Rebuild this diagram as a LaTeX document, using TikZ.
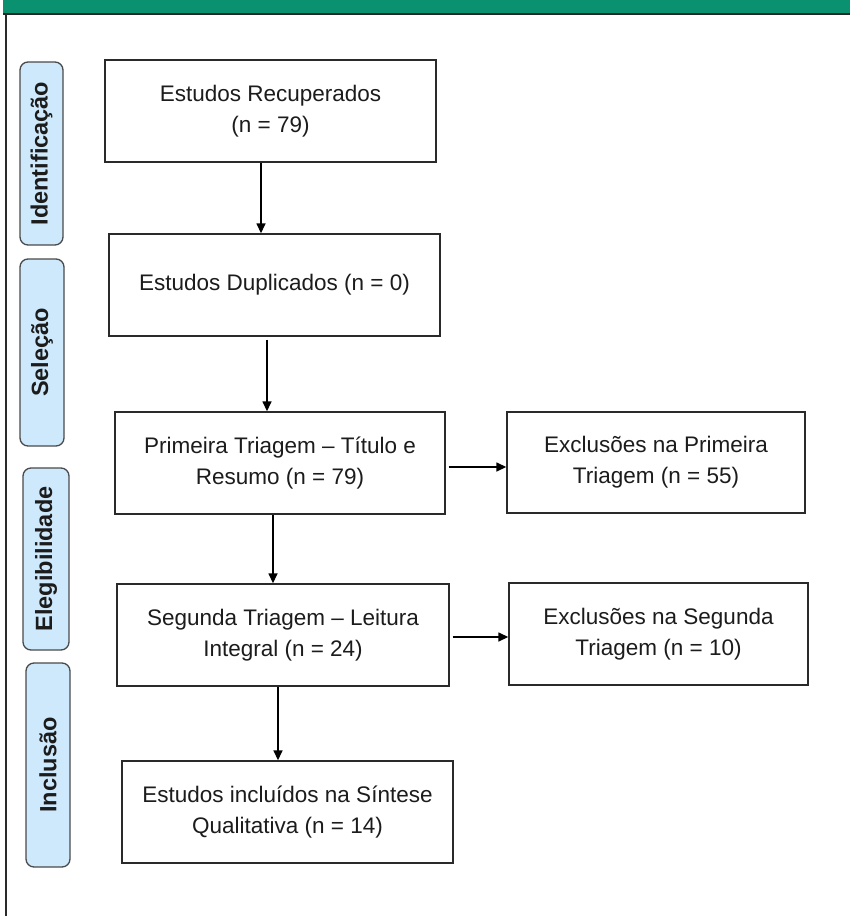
\documentclass[tikz,border=0pt]{standalone}
\usepackage{fontspec}
\setmainfont{Liberation Sans}
\usetikzlibrary{arrows.meta}
\definecolor{hdrgreen}{HTML}{0A9170}
\definecolor{boxline}{HTML}{2A2A2A}
\definecolor{sidefill}{HTML}{CDE9FB}
\definecolor{sideline}{HTML}{4A4A4A}
\definecolor{txt}{HTML}{1C1C1C}
\tikzset{
  flowbox/.style={draw=boxline, line width=1.4pt, fill=white, text=txt, align=center,
    inner sep=0pt, font=\fontsize{22.5}{31}\selectfont},
  sidebox/.style={draw=sideline, line width=1.3pt, fill=sidefill, rounded corners=8pt,
    inner sep=0pt},
  sidetext/.style={rotate=90, text=txt, inner sep=0pt, font=\bfseries\fontsize{23.5}{28}\selectfont},
  arr/.style={draw=black, line width=1.5pt, -{Triangle[length=10pt,width=9pt]}},
}
\begin{document}
\begin{tikzpicture}[x=1pt,y=-1pt]
\useasboundingbox (0,0) rectangle (850,916);
% header
\fill[hdrgreen] (3,0) rectangle (850,13);
\draw[black!85, line width=2pt] (3,14) -- (850,14);
\draw[boxline, line width=1.3pt] (6,14) -- (6,916);
% side labels
\node[sidebox, minimum width=43pt, minimum height=183pt] (s1) at (41.5,153.5) {};
\node[sidetext] (t1) at (s1.center) {Identificação};
\node[sidebox, minimum width=44pt, minimum height=187pt] (s2) at (42,352.5) {};
\node[sidetext] (t2) at (s2.center) {Seleção};
\node[sidebox, minimum width=46pt, minimum height=182pt] (s3) at (46,559) {};
\node[sidetext] (t3) at (s3.center) {Elegibilidade};
\node[sidebox, minimum width=44pt, minimum height=204pt] (s4) at (48,765) {};
\node[sidetext] (t4) at (s4.center) {Inclusão};
% flow boxes
\node[flowbox, minimum width=331pt, minimum height=102pt] (b1) at (270.5,111) {Estudos Recuperados\\(n = 79)};
\node[flowbox, minimum width=331pt, minimum height=102pt] (b2) at (274.5,285) {Estudos Duplicados (n = 0)};
\node[flowbox, minimum width=330pt, minimum height=102pt] (b3) at (280,463) {Primeira Triagem – Título e\\Resumo (n = 79)};
\node[flowbox, minimum width=298pt, minimum height=101pt] (b4) at (656,462.5) {Exclusões na Primeira\\Triagem (n = 55)};
\node[flowbox, minimum width=332pt, minimum height=102pt] (b5) at (283,635) {Segunda Triagem – Leitura\\Integral (n = 24)};
\node[flowbox, minimum width=299pt, minimum height=102pt] (b6) at (658.5,634) {Exclusões na Segunda\\Triagem (n = 10)};
\node[flowbox, minimum width=331pt, minimum height=102pt] (b7) at (287.5,812) {Estudos incluídos na Síntese\\Qualitativa (n = 14)};
% connectors
\draw[arr] ([xshift=-9.5pt]b1.south) -- ([xshift=-9.5pt]b1.south |- b2.north);
\draw[arr] ([xshift=-7.5pt, yshift=-3pt]b2.south) -- ([xshift=-7.5pt]b2.south |- b3.north);
\draw[arr] ([xshift=-7pt]b3.south) -- ([xshift=-7pt]b3.south |- b5.north);
\draw[arr] ([xshift=-5pt]b5.south) -- ([xshift=-5pt]b5.south |- b7.north);
\draw[arr] ([xshift=3pt, yshift=-4pt]b3.east) -- ([yshift=-4pt]b3.east -| b4.west);
\draw[arr] ([xshift=3pt, yshift=-2pt]b5.east) -- ([yshift=-2pt]b5.east -| b6.west);
\end{tikzpicture}
\end{document}
